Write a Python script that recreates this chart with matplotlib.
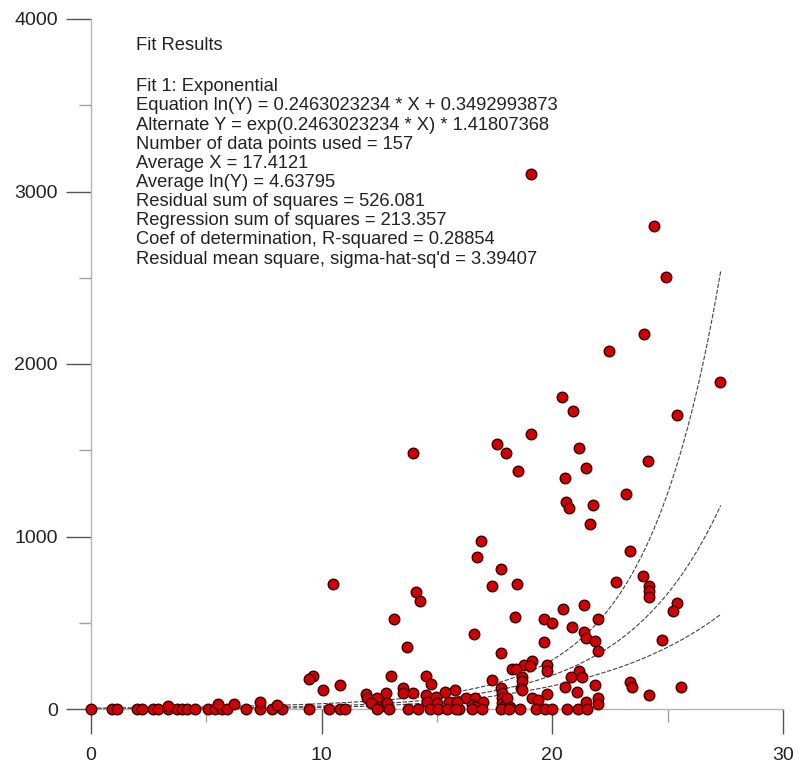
import numpy as np
import matplotlib
matplotlib.use('Agg')
import matplotlib.pyplot as plt
from matplotlib.ticker import MultipleLocator

plt.rcParams['font.family'] = ['Liberation Sans', 'DejaVu Sans']

# data points (x, y)
x_vals = [
    19.08, 24.41, 24.92, 23.98, 22.45, 27.28, 20.42, 20.90, 19.08, 25.41,
    21.16, 21.47, 20.56, 20.58, 20.73, 21.76, 21.64, 17.61, 17.97, 18.52,
    13.98, 16.91, 16.75, 17.78, 24.16, 23.20, 23.35, 23.94, 24.20, 24.20,
    24.20, 25.41, 25.21, 24.76, 22.77, 18.47, 18.37, 20.47, 21.38, 19.63,
    20.00, 20.87, 21.97, 21.38, 21.47, 21.87, 21.97, 19.63, 17.78, 25.57,
    24.20, 23.37, 23.46, 21.87, 21.08, 20.57, 19.79, 21.16, 21.29, 20.80,
    19.77, 19.77, 18.79, 19.12, 18.24, 18.43, 19.04, 18.68, 18.68, 18.62,
    18.69, 21.48, 21.96, 22.00, 19.10, 19.39, 16.61, 17.39, 17.39, 17.79,
    17.81, 17.81, 17.81, 17.85, 15.80, 16.25, 16.65, 17.01, 16.51, 16.65,
    18.03, 18.17, 15.97, 16.51, 16.97, 17.77, 18.10, 18.60, 19.30, 19.69,
    19.98, 20.63, 21.13, 21.52, 10.48, 14.08, 14.28, 13.15, 13.69, 9.61,
    9.45, 10.05, 10.80, 13.00, 14.53, 14.76, 13.54, 13.54, 13.98, 11.94,
    11.97, 12.79, 12.42, 12.13, 12.50, 12.85, 14.51, 14.95, 15.35, 14.56,
    14.99, 15.50, 15.86, 9.45, 10.33, 10.80, 11.01, 12.42, 12.92, 13.76,
    14.19, 14.70, 15.06, 15.43, 15.83, 0.00, 0.90, 1.11, 1.98, 2.20,
    2.70, 2.92, 3.35, 3.72, 3.93, 4.15, 4.51, 5.09, 5.38, 5.67,
    5.88, 6.71, 7.33, 7.84, 8.27, 3.35, 5.52, 6.20, 7.33, 8.05,
]
y_vals = [
    3101, 2800, 2503, 2174, 2074, 1896, 1809, 1726, 1592, 1704,
    1515, 1397, 1341, 1198, 1163, 1183, 1072, 1536, 1486, 1381,
    1486, 976, 883, 812, 1436, 1246, 916, 773, 713, 684,
    651, 613, 570, 400, 736, 726, 532, 581, 601, 520,
    497, 477, 522, 446, 412, 392, 334, 388, 326, 126,
    81, 158, 126, 137, 99, 126, 87, 222, 187, 187,
    257, 220, 253, 278, 231, 230, 251, 185, 165, 120,
    110, 42, 62, 29, 62, 55, 433, 715, 168, 120,
    91, 62, 37, 13, 110, 66, 62, 39, 23, 13,
    62, 13, 0, 0, 0, 0, 0, 0, 0, 0,
    0, 0, 0, 0, 723, 680, 628, 520, 361, 191,
    172, 110, 139, 191, 191, 143, 120, 91, 94, 87,
    62, 91, 66, 33, 13, 37, 81, 71, 100, 42,
    33, 42, 42, 0, 0, 0, 0, 0, 0, 0,
    0, 0, 0, 0, 0, 0, 0, 0, 0, 0,
    0, 0, 0, 0, 0, 0, 0, 0, 0, 0,
    0, 0, 0, 0, 0, 17, 27, 29, 39, 23,
]

# fit parameters as printed on the chart
slope = 0.2463023234
intercept = 0.3492993873
n_used = 157
avg_x = 17.4121
sigma2 = 3.39407
reg_ss = 213.357
x_end = 27.3

fit_lines = [
    "Fit 1: Exponential",
    "Equation ln(Y) = 0.2463023234 * X + 0.3492993873",
    "Alternate Y = exp(0.2463023234 * X) * 1.41807368",
    "Number of data points used = 157",
    "Average X = 17.4121",
    "Average ln(Y) = 4.63795",
    "Residual sum of squares = 526.081",
    "Regression sum of squares = 213.357",
    "Coef of determination, R-squared = 0.28854",
    "Residual mean square, sigma-hat-sq'd = 3.39407",
]

fig = plt.figure(figsize=(7.98, 7.66), dpi=100)
# axes box: x 0..30 -> px 91..783, y 0..4000 -> py 709..19
ax = fig.add_axes([91 / 798, (766 - 709) / 766, (783 - 91) / 798, (709 - 19) / 766])
ax.set_xlim(0, 30)
ax.set_ylim(0, 4000)

# fitted curve with band (in ln space)
xs = np.linspace(0, x_end, 300)
sxx = reg_ss / slope ** 2
half = 2.25 * np.sqrt(sigma2) * np.sqrt(1 / n_used + (xs - avg_x) ** 2 / sxx)
ln_fit = intercept + slope * xs
for k in (-1, 0, 1):
    ax.plot(xs, np.exp(ln_fit + k * half), color='#444444', lw=0.8,
            ls=(0, (4, 1.5)), zorder=2, clip_on=False)

ax.scatter(x_vals, y_vals, s=58, c='#d40000', edgecolors='#3a0000',
           linewidths=1.0, zorder=3, clip_on=False)

for side in ('top', 'right'):
    ax.spines[side].set_visible(False)
for side in ('left', 'bottom'):
    ax.spines[side].set_color('#b5b5b5')
    ax.spines[side].set_linewidth(1.0)

ax.xaxis.set_major_locator(MultipleLocator(10))
ax.xaxis.set_minor_locator(MultipleLocator(5))
ax.yaxis.set_major_locator(MultipleLocator(1000))
ax.yaxis.set_minor_locator(MultipleLocator(500))
ax.tick_params(which='major', direction='out', length=18, width=1.0,
               color='#555555', labelsize=14, labelcolor='#222222')
ax.tick_params(axis='x', which='major', pad=9)
ax.tick_params(axis='y', which='major', pad=6)
ax.tick_params(which='minor', direction='out', length=9, width=1.0, color='#a0a0a0')

# fit results text block
fig.text(136 / 798, 1 - 45 / 766, "Fit Results", fontsize=13.2, color='#222222',
         va='center', ha='left')
for i, line in enumerate(fit_lines):
    fig.text(136 / 798, 1 - (86.7 + 19.15 * i) / 766, line, fontsize=13.2,
             color='#222222', va='center', ha='left')

fig.savefig('out.png', dpi=100)
plt.close(fig)
